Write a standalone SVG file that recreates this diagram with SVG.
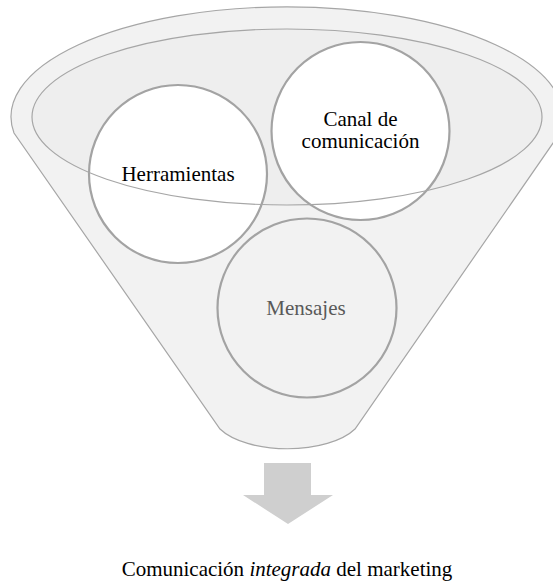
<svg xmlns="http://www.w3.org/2000/svg" width="553" height="585" viewBox="0 0 553 585">
<style>
.t{font-family:"Liberation Serif","Times New Roman",serif;font-size:21px;fill:#000;text-anchor:middle}
.circ{stroke:#a3a3a3;stroke-width:2.2}
</style>
<rect width="553" height="585" fill="#fff"/>
<g id="funnel">
<path d="M14,133 A276,110 0 1 1 560,133 L355,429 A75,35 0 0 1 220,429 Z" fill="#f2f2f2" stroke="#a6a6a6" stroke-width="1.2"/>
<ellipse cx="287" cy="117" rx="255" ry="88" fill="#eeeeee"/>
</g>
<g id="mensajes">
<circle class="circ" cx="307" cy="308" r="89.5" fill="#f2f2f2" stroke="#b3b3b3"/>
<text class="t" x="306" y="315" style="fill:#595959">Mensajes</text>
</g>
<g id="herramientas">
<circle class="circ" cx="178" cy="174" r="89" fill="#fff"/>
</g>
<g id="canal">
<circle class="circ" cx="360.5" cy="131" r="89" fill="#fff"/>
</g>
<ellipse cx="287" cy="117" rx="255" ry="88" fill="none" stroke="#a6a6a6" stroke-width="1.2"/>
<text class="t" x="178" y="181">Herramientas</text>
<text class="t" x="360.5" y="126">Canal de</text>
<text class="t" x="360.5" y="148">comunicación</text>
<g id="connectors">
<path d="M264,463 H311 V495 H333 L288,524 L243,495 H264 Z" fill="#cfcfcf"/>
</g>
<text class="t" x="287" y="576">Comunicación <tspan font-style="italic">integrada</tspan> del marketing</text>
</svg>
